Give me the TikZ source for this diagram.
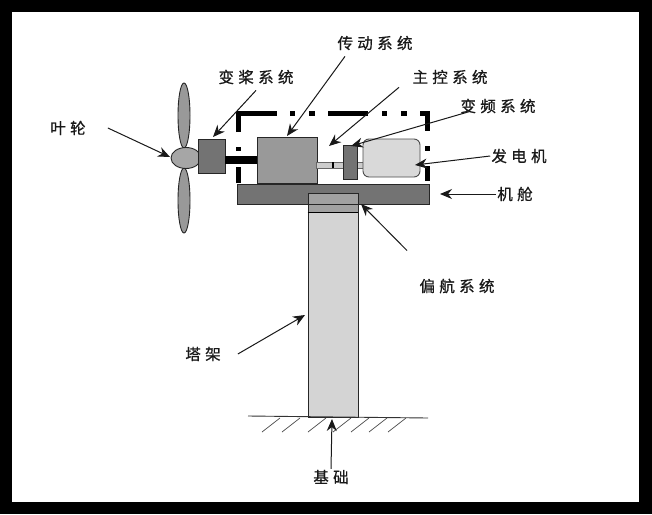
\documentclass[tikz,border=0pt]{standalone}
\usepackage{fontspec}
\usetikzlibrary{shapes.geometric,arrows.meta}
\newfontfamily\cjk[LetterSpace=28,FakeBold=0.7]{Noto Sans CJK SC}
\tikzset{
  partbox/.style={draw=black!85, line width=0.9pt, inner sep=0pt},
  blade/.style={partbox, ellipse, fill=black!40, minimum width=12pt, minimum height=65pt},
  partname/.style={font=\cjk\fontsize{15.5pt}{15.5pt}\selectfont, text=black!90, inner sep=1pt},
  pointer/.style={-{Stealth[length=12pt,width=10pt]}, line width=1pt, black!90}
}
\begin{document}
\begin{tikzpicture}[x=1pt, y=-1pt]
\fill[black] (0,0) rectangle (652,514);
\fill[white] (12,12) rectangle (639,502);

% rotor
\node (bladeup) [blade] at (184,115.5) {};
\node (bladedown) [blade] at (184,200.5) {};
\node (hub) [partbox, ellipse, fill=black!35, minimum width=30pt, minimum height=21pt] at (186,158) {};
\node (pitch) [partbox, fill=black!55, minimum width=27pt, minimum height=34pt] at (211.5,156) {};

% drive train
\node (gearbox) [partbox, fill=black!40, minimum width=60pt, minimum height=46pt] at (287,160) {};
\draw[line width=8pt] (pitch.east |- gearbox) -- (gearbox);
\node (shaft) [partbox, draw=black!60, fill=black!20, minimum width=47pt, minimum height=6pt] at (340,165) {};
\node (brake) [fill=black, minimum width=1.5pt, minimum height=6pt, inner sep=0pt] at (333,165) {};
\node (converter) [partbox, fill=black!55, minimum width=14pt, minimum height=34pt] at (350,162) {};
\node (generator) [partbox, draw=black!70, fill=black!15, rounded corners=6pt, minimum width=57pt, minimum height=38pt] at (391.5,158) {};

% nacelle and frame
\draw[line width=5pt, dash pattern=on 16pt off 16pt on 4pt off 15pt on 58pt off 13pt on 5pt off 14pt on 6pt off 13pt on 40pt off 14pt on 5pt off 14pt on 6pt off 13pt on 25pt off 15pt on 5pt off 15pt on 15pt]
  (238,183) -- (238,113) -- (427,113) -- (427,181);
\node (nacelle) [partbox, fill=black!55, minimum width=192pt, minimum height=19.5pt] at (333,194.5) {};

% tower
\node (tower) [partbox, fill=black!17, minimum width=50pt, minimum height=205pt] at (333,314.5) {};
\node (yawtop) [partbox, fill=black!37, minimum width=50pt, minimum height=11pt] at (333,198.5) {};
\node (yawlow) [partbox, fill=black!37, minimum width=50pt, minimum height=8pt] at (333,208) {};
\draw[line width=1.6pt] (yawlow.south west) -- (yawlow.south east);

% ground
\coordinate (groundleft) at (248,416);
\coordinate (groundright) at (428,418);
\draw[line width=0.9pt, black!80] (groundleft) -- (groundright);
\foreach \x in {262,282,308,333,351,369,388}
  \draw[line width=0.7pt, black!70] (\x,432) -- (\x+18,418);

% labels
\node (rotorname) [partname] at (68,128) {叶轮};
\node (pitchname) [partname] at (256,77) {变桨系统};
\node (drivename) [partname] at (375,43) {传动系统};
\node (controlname) [partname] at (450,77) {主控系统};
\node (convertername) [partname] at (498,106) {变频系统};
\node (generatorname) [partname] at (519,156) {发电机};
\node (nacellename) [partname] at (515,194) {机舱};
\node (yawname) [partname] at (457,286) {偏航系统};
\node (towername) [partname] at (203,354) {塔架};
\node (basename) [partname] at (331,477) {基础};

% arrow ends
\coordinate (rotortip) at (170,157);
\coordinate (pitchtip) at (213,137);
\coordinate (drivetip) at (287,136);
\coordinate (controltip) at (329,146);
\coordinate (convertertip) at (351,146);
\coordinate (generatortip) at (415,165);
\coordinate (nacelletip) at (440,194);
\coordinate (yawtip) at (361,204);
\coordinate (towertip) at (305,315);
\coordinate (basetip) at (332,419);

\draw[pointer] ([xshift=21pt]rotorname.east) -- (rotortip);
\draw[pointer] ([yshift=-5pt]pitchname.south) -- (pitchtip);
\draw[pointer] ([xshift=-30pt,yshift=-5pt]drivename.south) -- (drivetip);
\draw[pointer] ([xshift=-51pt,yshift=-2pt]controlname.south) -- (controltip);
\draw[pointer] ([xshift=-28pt,yshift=3pt]convertername.south) -- (convertertip);
\draw[pointer] (generatorname.west) -- (generatortip);
\draw[pointer] (nacellename.west) -- (nacelletip);
\draw[pointer] ([xshift=-50pt,yshift=27pt]yawname.north) -- (yawtip);
\draw[pointer] ([xshift=16pt]towername.east) -- (towertip);
\draw[pointer] (basename.north) -- (basetip);
\end{tikzpicture}
\end{document}
